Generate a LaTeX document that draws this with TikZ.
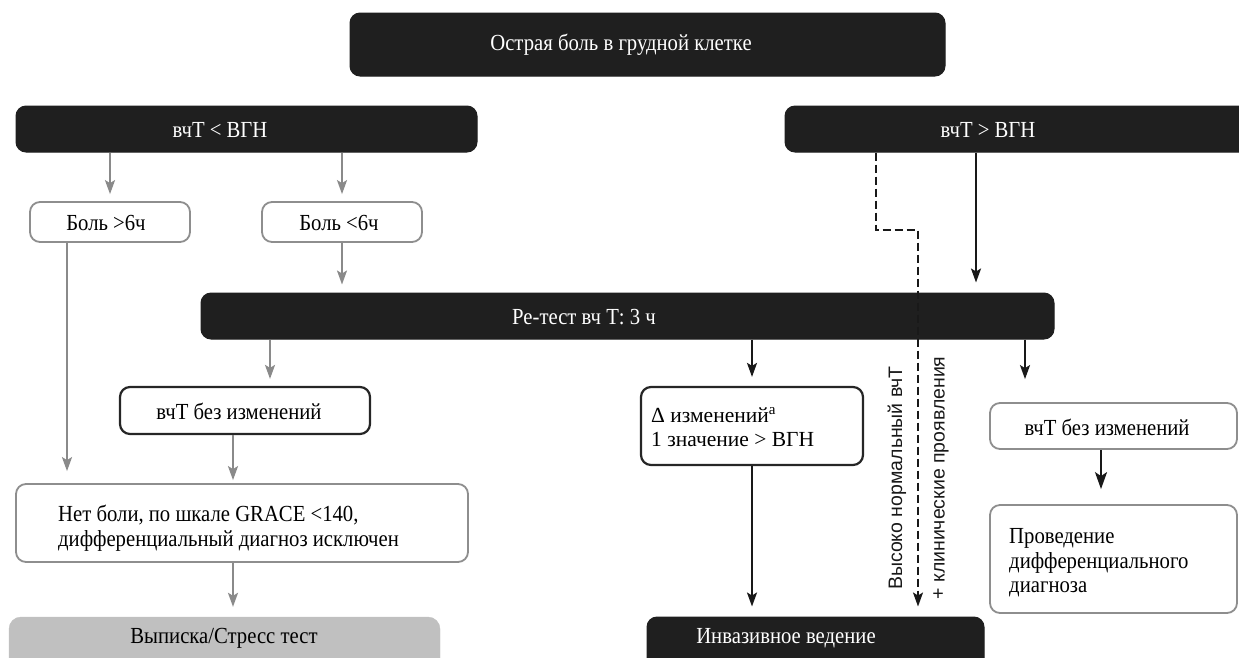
\documentclass[tikz,border=0pt]{standalone}
\usepackage{fontspec}
\setmainfont{Liberation Serif}[FakeStretch=0.9]
\newfontfamily\plainserif{Liberation Serif}
\newfontfamily\sansf{Liberation Sans}
\usetikzlibrary{arrows.meta}
\definecolor{boxdark}{HTML}{1F1F1F}
\definecolor{graybrd}{HTML}{8E8E8E}
\definecolor{arrgray}{HTML}{8A8A8A}
\definecolor{blackbrd}{HTML}{262626}
\definecolor{lightfill}{HTML}{C0C0C0}
\tikzset{
  darkbox/.style={rounded corners=10pt, fill=boxdark, draw=boxdark, line width=1pt, inner sep=0pt},
  graybox/.style={rounded corners=10pt, fill=white, draw=graybrd, line width=1.8pt, inner sep=0pt},
  blackbox/.style={rounded corners=10pt, fill=white, draw=blackbrd, line width=2.2pt, inner sep=0pt},
  lightbox/.style={rounded corners=12pt, fill=lightfill, draw=lightfill, inner sep=0pt},
  txt/.style={font=\fontsize{23}{24.5}\selectfont, inner sep=0pt, text=black},
  wtxt/.style={txt, text=white},
  ptxt/.style={font=\plainserif\fontsize{21.5}{24.5}\selectfont, inner sep=0pt, text=black},
  rtxt/.style={font=\sansf\fontsize{19.5}{22}\selectfont, inner sep=0pt, rotate=90, text=black!90},
  garrow/.style={draw=arrgray, line width=2pt, -{Stealth[length=14pt,width=10pt,inset=3pt]}},
  barrow/.style={draw=black!90, line width=2pt, -{Stealth[length=14pt,width=10pt,inset=3pt]}},
  bigarrow/.style={draw=black!90, line width=2.2pt, -{Stealth[length=17pt,width=12pt,inset=4pt]}},
  dasharrow/.style={draw=black!90, line width=1.8pt, dash pattern=on 8pt off 4pt, -{Stealth[length=14pt,width=10pt,inset=3pt]}}
}
\begin{document}
\begin{tikzpicture}[x=1pt,y=-1pt]
\useasboundingbox (0,0) rectangle (1239,657);
\begin{scope}
\clip (0,0) rectangle (1239,657);
% boxes
\node[darkbox, minimum width=595pt, minimum height=63pt] (top) at (647.5,44.5) {};
\node[wtxt] (toptxt) at (621,45) {Острая боль в грудной клетке};

\node[darkbox, minimum width=461pt, minimum height=46pt] (lt) at (246.5,129) {};
\node[wtxt] (lttxt) at (220,130) {вчТ < ВГН};

\node[darkbox, minimum width=470pt, minimum height=46pt] (gt) at (1020,129) {};
\node[wtxt] (gttxt) at (988,130) {вчТ > ВГН};

\node[graybox, minimum width=160pt, minimum height=40pt] (b6) at (110,222) {};
\node[txt] (b6txt) at (106,223) {Боль >6ч};

\node[graybox, minimum width=160pt, minimum height=40pt] (bl6) at (342,222) {};
\node[txt] (bl6txt) at (339,223) {Боль <6ч};

\node[darkbox, minimum width=853pt, minimum height=46pt] (rt) at (627.5,316) {};
\node[wtxt] (rttxt) at (584,317) {Ре-тест вч Т: 3 ч};

\node[blackbox, minimum width=250pt, minimum height=47pt] (ulL) at (245,410.5) {};
\node[txt] (ulLtxt) at (239,411) {вчТ без изменений};

\node[graybox, minimum width=452pt, minimum height=78pt] (nb) at (242,523) {};
\node[txt, anchor=west, align=left] (nbtxt) at (58,528) {Нет боли, по шкале GRACE <140,\\дифференциальный диагноз исключен};

\node[lightbox, minimum width=431pt, minimum height=70pt] (vy) at (224.5,652) {};
\node[txt] (vytxt) at (224,638) {Выписка/Стресс тест};

\node[blackbox, minimum width=222pt, minimum height=78pt] (dl) at (752,426) {};
\node[ptxt, anchor=west, align=left] (dltxt) at (651,427) {Δ изменений\textsuperscript{a}\\1 значение > ВГН};

\node[darkbox, minimum width=337pt, minimum height=70pt] (inv) at (815.5,652) {};
\node[wtxt] (invtxt) at (786,638) {Инвазивное ведение};

\node[graybox, minimum width=247pt, minimum height=46pt] (ulR) at (1113.5,426) {};
\node[txt] (ulRtxt) at (1107,427) {вчТ без изменений};

\node[graybox, minimum width=247pt, minimum height=108pt] (pd) at (1113.5,559) {};
\node[txt, anchor=west, align=left] (pdtxt) at (1009,563) {Проведение\\дифференциального\\диагноза};

% rotated labels
\node[rtxt] (hn) at (897,478) {Высоко нормальный вчТ};
\node[rtxt] (kp) at (941,478) {+ клинические проявления};

% helper x positions
\coordinate (x67) at (67,0);
\coordinate (x233) at (233,0);
\coordinate (x270) at (270,0);
\coordinate (x752) at (752,0);
\coordinate (x1025) at (1025,0);
\coordinate (x1101) at (1101,0);
\coordinate (x976) at (976,0);
\coordinate (x876) at (876,0);
\coordinate (x918) at (918,0);
\coordinate (dbend) at (876,230);

% connectors
\draw[garrow, shorten >=7pt] (lt.south -| b6.north) -- (b6.north);
\draw[garrow, shorten >=7pt] (lt.south -| bl6.north) -- (bl6.north);
\draw[garrow, shorten >=8pt] (bl6.south) -- (rt.north -| bl6.south);
\draw[garrow, shorten >=12pt] (b6.south -| x67) -- (nb.north -| x67);
\draw[garrow, shorten >=7pt] (rt.south -| x270) -- (ulL.north -| x270);
\draw[garrow, shorten >=3pt] (ulL.south -| x233) -- (nb.north -| x233);
\draw[garrow, shorten >=10pt] (nb.south -| x233) -- (vy.north -| x233);

\draw[barrow, shorten >=9pt] (rt.south -| x752) -- (dl.north -| x752);
\draw[barrow, shorten >=10pt] (dl.south -| x752) -- (inv.north -| x752);
\draw[barrow, shorten >=23pt] (rt.south -| x1025) -- (ulR.north -| x1025);
\draw[bigarrow, shorten >=15pt] (ulR.south -| x1101) -- (pd.north -| x1101);
\draw[barrow, shorten >=10pt] (gt.south -| x976) -- (rt.north -| x976);
\draw[dasharrow, shorten >=10pt] (gt.south -| x876) -- (dbend) -- (dbend -| x918) -- (inv.north -| x918);
\end{scope}
\end{tikzpicture}
\end{document}
